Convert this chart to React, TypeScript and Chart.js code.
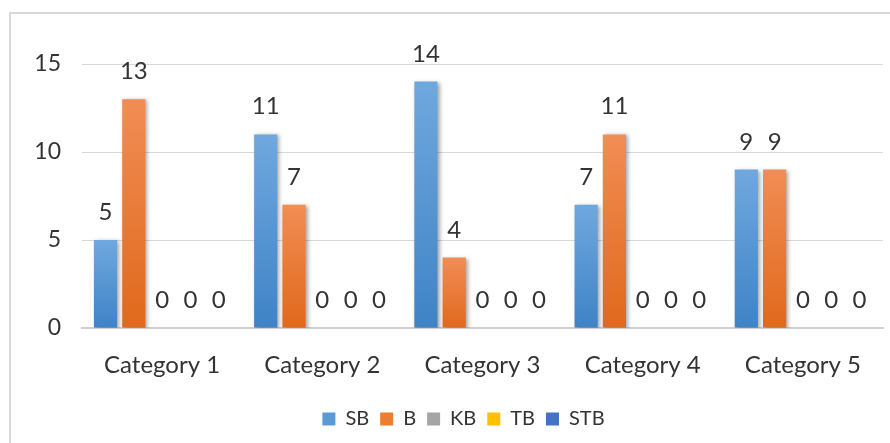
import React, { useEffect, useRef } from "react";
import { Chart, registerables } from "chart.js";

Chart.register(...registerables);

const categories = ["Category 1", "Category 2", "Category 3", "Category 4", "Category 5"];
const seriesNames = ["SB", "B", "KB", "TB", "STB"];
const sbValues = [5, 11, 14, 7, 9];
const bValues = [13, 7, 4, 11, 9];
const kbValues = [0, 0, 0, 0, 0];
const tbValues = [0, 0, 0, 0, 0];
const stbValues = [0, 0, 0, 0, 0];
const yTicks = [0, 5, 10, 15];

const legendColors = ["#5b9bd5", "#ed7d31", "#a5a5a5", "#ffc000", "#4472c4"];
const gradTop = ["#70a8de", "#f18d55", "#b3b3b3", "#ffcb2e", "#5683cf"];
const gradBottom = ["#3f83c6", "#e0691c", "#959595", "#eab000", "#3a65b4"];

const FONT = "Lato, 'Open Sans', sans-serif";
const TEXT = "#333333";

function gradientFor(i: number) {
  return (ctx: any) => {
    const chart = ctx.chart;
    if (!chart.chartArea || ctx.type !== "data") return legendColors[i];
    const y = chart.scales.y;
    const top = y.getPixelForValue(ctx.raw);
    const bottom = y.getPixelForValue(0);
    if (bottom - top < 1) return legendColors[i];
    const g = chart.ctx.createLinearGradient(0, top, 0, bottom);
    g.addColorStop(0, gradTop[i]);
    g.addColorStop(1, gradBottom[i]);
    return g;
  };
}

const shadowPlugin = {
  id: "barShadow",
  beforeDatasetDraw(chart: any) {
    const c = chart.ctx;
    c.save();
    c.shadowColor = "rgba(0,0,0,0.35)";
    c.shadowBlur = 4;
    c.shadowOffsetX = 2;
    c.shadowOffsetY = 1;
  },
  afterDatasetDraw(chart: any) {
    chart.ctx.restore();
  },
};

const legendShiftPlugin = {
  id: "legendShift",
  afterLayout(chart: any) {
    if (chart.legend) chart.legend.left += 44;
  },
};

const labelPlugin = {
  id: "valueLabels",
  afterDatasetsDraw(chart: any) {
    const c = chart.ctx;
    c.save();
    c.font = `24px ${FONT}`;
    c.fillStyle = TEXT;
    c.textAlign = "center";
    c.textBaseline = "alphabetic";
    chart.data.datasets.forEach((ds: any, i: number) => {
      const meta = chart.getDatasetMeta(i);
      meta.data.forEach((bar: any, j: number) => {
        c.fillText(String(ds.data[j]), bar.x, bar.y - 20);
      });
    });
    c.restore();
  },
};

export default function App() {
  const ref = useRef<HTMLCanvasElement | null>(null);

  useEffect(() => {
    document.body.style.margin = "0";
    const allValues = [sbValues, bValues, kbValues, tbValues, stbValues];
    const chart = new Chart(ref.current as HTMLCanvasElement, {
      type: "bar",
      data: {
        labels: categories,
        datasets: seriesNames.map((name, i) => ({
          label: name,
          data: allValues[i],
          backgroundColor: gradientFor(i),
          borderWidth: 0,
          categoryPercentage: 0.883,
          barPercentage: 0.82,
        })),
      },
      options: {
        animation: false,
        responsive: false,
        devicePixelRatio: 1,
        layout: { padding: { left: 0, right: 7, top: 64, bottom: 4 } },
        scales: {
          x: {
            grid: { display: false, drawTicks: false },
            border: { display: true, color: "#d0d0d0", width: 2 },
            ticks: { color: TEXT, font: { family: FONT, size: 24 }, padding: 23 },
            afterFit(scale: any) {
              scale.height = 70;
            },
          },
          y: {
            min: 0,
            max: 15,
            afterBuildTicks(scale: any) {
              scale.ticks = yTicks.map((v) => ({ value: v }));
            },
            grid: { color: "#d9d9d9", lineWidth: 1, drawTicks: false },
            border: { display: false },
            ticks: { color: TEXT, font: { family: FONT, size: 23 }, padding: 21 },
            afterFit(scale: any) {
              scale.width = 82;
            },
          },
        },
        plugins: {
          legend: {
            position: "bottom",
            labels: {
              color: TEXT,
              font: { family: FONT, size: 20 },
              boxWidth: 13,
              boxHeight: 13,
              padding: 11,
              generateLabels(chart: any) {
                const items = Chart.defaults.plugins.legend.labels.generateLabels(chart);
                return items.map((it: any, i: number) => ({
                  ...it,
                  fillStyle: legendColors[i],
                  strokeStyle: legendColors[i],
                  lineWidth: 0,
                }));
              },
            },
          },
          tooltip: { enabled: false },
        },
      },
      plugins: [shadowPlugin, labelPlugin, legendShiftPlugin],
    } as any);
    return () => chart.destroy();
  }, []);

  return (
    <div style={{ position: "relative", width: 890, height: 443, background: "#fff", overflow: "hidden" }}>
      <canvas ref={ref} width={890} height={443} style={{ position: "absolute", left: 0, top: 0 }} />
      <div
        style={{
          position: "absolute",
          left: 9,
          top: 12,
          width: 900,
          height: 460,
          borderLeft: "2px solid #d9d9d9",
          borderTop: "2px solid #d9d9d9",
          pointerEvents: "none",
        }}
      />
    </div>
  );
}
